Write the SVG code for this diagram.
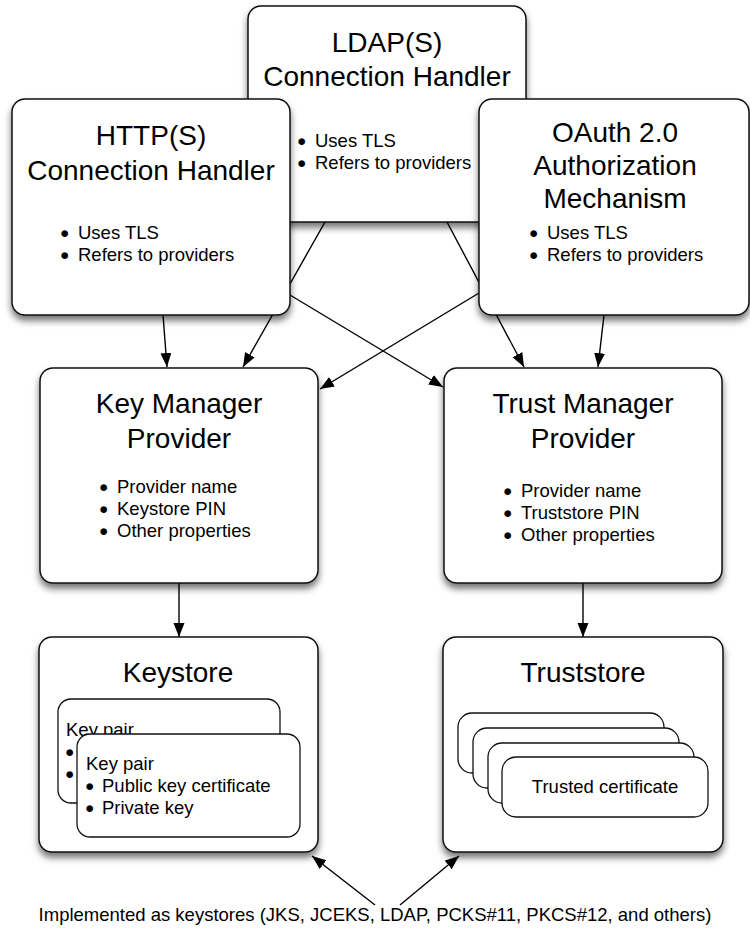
<svg xmlns="http://www.w3.org/2000/svg" width="750" height="929" viewBox="0 0 750 929">
  <defs>
    <filter id="sh" x="-10%" y="-10%" width="125%" height="130%">
      <feDropShadow dx="0" dy="5" stdDeviation="3.5" flood-color="#000" flood-opacity="0.55"/>
    </filter>
    <marker id="ah" markerUnits="userSpaceOnUse" markerWidth="15" markerHeight="12" refX="14" refY="5.5" orient="auto">
      <path d="M0,0 L14,5.5 L0,11 z" fill="#000"/>
    </marker>
  </defs>
  <style>
    .box { fill: #fff; stroke: #111; stroke-width: 1.5; filter: url(#sh); }
    .card { fill: #fff; stroke: #111; stroke-width: 1.3; }
    .t { font-family: "Liberation Sans", Arial, Helvetica, sans-serif; font-size: 28px; fill: #000; text-anchor: middle; }
    .b { font-family: "Liberation Sans", Arial, Helvetica, sans-serif; font-size: 18.5px; fill: #000; }
    .dot { font-size: 15.5px; }
    .c { font-family: "Liberation Sans", Arial, Helvetica, sans-serif; font-size: 18.5px; fill: #000; text-anchor: middle; }
    .ln { stroke: #000; stroke-width: 1.4; fill: none; marker-end: url(#ah); }
  </style>
  <rect width="750" height="929" fill="#fff"/>

  <g id="ldap">
    <rect class="box" x="248" y="6" width="278" height="216" rx="13"/>
    <text class="t" x="387" y="52">LDAP(S)</text>
    <text class="t" x="387" y="86">Connection Handler</text>
    <text class="b" x="297" y="146"><tspan class="dot">●</tspan> <tspan x="315" y="147">Uses TLS</tspan></text>
    <text class="b" x="297" y="168"><tspan class="dot">●</tspan> <tspan x="315" y="169">Refers to providers</tspan></text>
  </g>

  <g id="connectors">
    <line class="ln" x1="163" y1="315" x2="167" y2="367"/>
    <line class="ln" x1="325" y1="222" x2="243" y2="367"/>
    <line class="ln" x1="447" y1="222" x2="524" y2="367"/>
    <line class="ln" x1="604" y1="315" x2="598" y2="367"/>
    <line class="ln" x1="290" y1="295" x2="443" y2="387"/>
    <line class="ln" x1="479" y1="293" x2="320" y2="389"/>
    <line class="ln" x1="179" y1="583" x2="179" y2="637"/>
    <line class="ln" x1="583" y1="583" x2="583" y2="637"/>
    <line class="ln" x1="375" y1="905" x2="312" y2="856"/>
    <line class="ln" x1="400" y1="905" x2="459" y2="856"/>
  </g>

  <g id="http">
    <rect class="box" x="12" y="99" width="278" height="216" rx="13"/>
    <text class="t" x="151" y="145">HTTP(S)</text>
    <text class="t" x="151" y="180">Connection Handler</text>
    <text class="b" x="60" y="238"><tspan class="dot">●</tspan> <tspan x="78" y="239">Uses TLS</tspan></text>
    <text class="b" x="60" y="260"><tspan class="dot">●</tspan> <tspan x="78" y="261">Refers to providers</tspan></text>
  </g>

  <g id="oauth">
    <rect class="box" x="479" y="99" width="270" height="216" rx="13"/>
    <text class="t" x="615" y="142">OAuth 2.0</text>
    <text class="t" x="615" y="175">Authorization</text>
    <text class="t" x="615" y="208">Mechanism</text>
    <text class="b" x="529" y="238"><tspan class="dot">●</tspan> <tspan x="547" y="239">Uses TLS</tspan></text>
    <text class="b" x="529" y="260"><tspan class="dot">●</tspan> <tspan x="547" y="261">Refers to providers</tspan></text>
  </g>

  <g id="key-manager-provider">
    <rect class="box" x="40" y="368" width="278" height="215" rx="13"/>
    <text class="t" x="179" y="413">Key Manager</text>
    <text class="t" x="179" y="448">Provider</text>
    <text class="b" x="99" y="492"><tspan class="dot">●</tspan> <tspan x="117" y="493">Provider name</tspan></text>
    <text class="b" x="99" y="514"><tspan class="dot">●</tspan> <tspan x="117" y="515">Keystore PIN</tspan></text>
    <text class="b" x="99" y="536"><tspan class="dot">●</tspan> <tspan x="117" y="537">Other properties</tspan></text>
  </g>

  <g id="trust-manager-provider">
    <rect class="box" x="444" y="368" width="278" height="215" rx="13"/>
    <text class="t" x="583" y="413">Trust Manager</text>
    <text class="t" x="583" y="448">Provider</text>
    <text class="b" x="503" y="496"><tspan class="dot">●</tspan> <tspan x="521" y="497">Provider name</tspan></text>
    <text class="b" x="503" y="518"><tspan class="dot">●</tspan> <tspan x="521" y="519">Truststore PIN</tspan></text>
    <text class="b" x="503" y="540"><tspan class="dot">●</tspan> <tspan x="521" y="541">Other properties</tspan></text>
  </g>

  <g id="keystore">
    <rect class="box" x="39" y="637" width="279" height="215" rx="13"/>
    <text class="t" x="178" y="682">Keystore</text>
    <g id="key-pair-back">
      <rect class="card" x="58" y="699" width="222" height="104" rx="13"/>
      <text class="b" x="66" y="736">Key pair</text>
      <text class="b dot" x="65" y="757">●</text>
      <text class="b dot" x="65" y="779">●</text>
    </g>
    <g id="key-pair-front">
      <rect class="card" x="77" y="734" width="223" height="103" rx="13"/>
      <text class="b" x="86" y="770">Key pair</text>
      <text class="b" x="85" y="791"><tspan class="dot">●</tspan> <tspan x="102" y="792">Public key certificate</tspan></text>
      <text class="b" x="85" y="813"><tspan class="dot">●</tspan> <tspan x="102" y="814">Private key</tspan></text>
    </g>
  </g>

  <g id="truststore">
    <rect class="box" x="443" y="637" width="280" height="215" rx="13"/>
    <text class="t" x="583" y="682">Truststore</text>
    <rect class="card" x="458" y="713" width="206" height="60" rx="14"/>
    <rect class="card" x="473" y="728" width="206" height="60" rx="14"/>
    <rect class="card" x="488" y="743" width="206" height="60" rx="14"/>
    <g id="trusted-certificate">
      <rect class="card" x="502" y="757" width="206" height="60" rx="14"/>
      <text class="c" x="605" y="793">Trusted certificate</text>
    </g>
  </g>

  <g id="caption">
    <text class="c" x="375" y="921">Implemented as keystores (JKS, JCEKS, LDAP, PCKS#11, PKCS#12, and others)</text>
  </g>
</svg>
